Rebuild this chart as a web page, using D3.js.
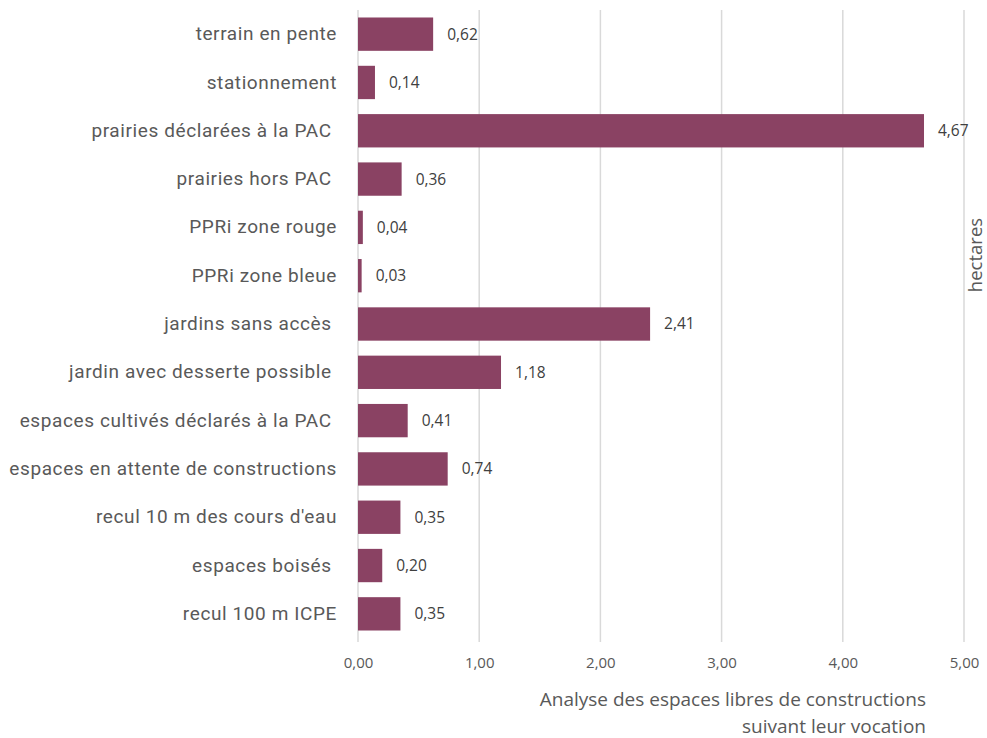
<!DOCTYPE html>
<html><head><meta charset="utf-8">
<script src="https://cdn.jsdelivr.net/npm/d3@7"></script>
<style>
body{margin:0;background:#fff;}
svg text{white-space:pre;}
</style></head>
<body>
<script>
const categories = ["terrain en pente","stationnement","prairies déclarées à la PAC ","prairies hors PAC ","PPRi zone rouge","PPRi zone bleue","jardins sans accès ","jardin avec desserte possible ","espaces cultivés déclarés à la PAC ","espaces en attente de constructions","recul 10 m des cours d'eau","espaces boisés ","recul 100 m ICPE"];
const values = [0.62,0.14,4.67,0.36,0.04,0.03,2.41,1.18,0.41,0.74,0.35,0.20,0.35];
const ticks = [0,1,2,3,4,5];
const titleLines = ["Analyse des espaces libres de constructions","suivant leur vocation"];
const axisLabel = "hectares";

const W=987,H=738;
const svg=d3.select("body").append("svg").attr("width",W).attr("height",H);
const x=d3.scaleLinear().domain([0,5]).range([358,964]);
const y=d3.scaleBand().domain(categories).range([10,638]).paddingInner(0.31).paddingOuter(0.155);
const fmt=v=>d3.format(".2f")(v).replace(".",",");

// gridlines
svg.append("g").selectAll("line").data(ticks).join("line")
 .attr("x1",d=>x(d)).attr("x2",d=>x(d)).attr("y1",10).attr("y2",642)
 .attr("stroke","#d9d9d9").attr("stroke-width",1.5);

// bars
svg.append("g").selectAll("rect").data(values).join("rect")
 .attr("x",x(0)).attr("y",(d,i)=>y(categories[i])).attr("width",d=>x(d)-x(0)).attr("height",y.bandwidth())
 .attr("fill","#8a4263");

// value labels
svg.append("g").selectAll("text").data(values).join("text")
 .attr("x",d=>x(d)+14).attr("y",(d,i)=>y(categories[i])+y.bandwidth()/2)
 .attr("dy","0.35em").attr("font-family","Open Sans").attr("font-size",15.5).attr("fill","#404040")
 .text(d=>fmt(d));

// category labels
const yAxis=d3.axisLeft(y).tickSize(0).tickPadding(0);
const ga=svg.append("g").attr("transform","translate(337,0)").call(yAxis);
ga.select(".domain").remove();
ga.selectAll("text").attr("font-family","Roboto").attr("font-size",19).attr("letter-spacing","0.6px").attr("fill","#595959");

// x tick labels
const xAxis=d3.axisBottom(x).tickValues(ticks).tickSize(0).tickPadding(0).tickFormat(fmt);
const gx=svg.append("g").attr("transform","translate(0,657)").call(xAxis);
gx.select(".domain").remove();
gx.selectAll("text").attr("font-family","Open Sans").attr("font-size",15).attr("fill","#595959");

// title
svg.append("g").selectAll("text").data(titleLines).join("text")
 .attr("x",926).attr("y",(d,i)=>706+i*27).attr("text-anchor","end")
 .attr("font-family","Open Sans").attr("font-size",19).attr("fill","#595959").text(d=>d);

// right label
svg.append("text").attr("transform","translate(982,255) rotate(-90)").attr("text-anchor","middle")
 .attr("font-family","Open Sans").attr("font-size",18.5).attr("fill","#595959").text(axisLabel);
</script>
</body></html>
